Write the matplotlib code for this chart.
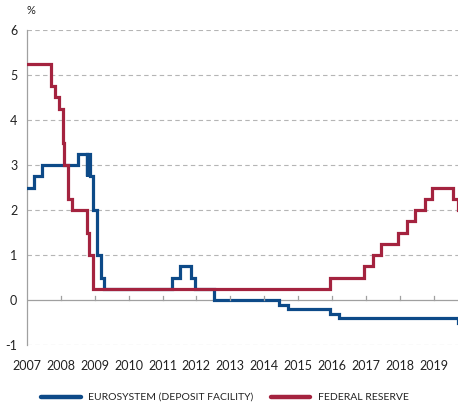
import matplotlib
matplotlib.use("Agg")
import matplotlib.pyplot as plt
from matplotlib.lines import Line2D
import pandas as pd

plt.rcParams['font.family'] = ['Lato', 'DejaVu Sans']

ecb_dates = ["2007-01-01", "2007-03-14", "2007-06-13", "2008-07-09", "2008-10-08",
             "2008-10-09", "2008-11-12", "2008-12-10", "2009-01-21", "2009-03-11",
             "2009-04-08", "2011-04-13", "2011-07-13", "2011-11-09", "2011-12-14",
             "2012-07-11", "2014-06-11", "2014-09-10", "2015-12-09", "2016-03-16",
             "2019-09-18", "2019-09-24"]
ecb_rates = [2.50, 2.75, 3.00, 3.25, 2.75, 3.25, 2.75, 2.00, 1.00, 0.50,
             0.25, 0.50, 0.75, 0.50, 0.25, 0.00, -0.10, -0.20, -0.30, -0.40,
             -0.50, -0.50]

fed_dates = ["2007-01-01", "2007-09-18", "2007-10-31", "2007-12-11", "2008-01-22",
             "2008-01-30", "2008-03-18", "2008-04-30", "2008-10-08", "2008-10-29",
             "2008-12-16", "2015-12-16", "2016-12-14", "2017-03-15", "2017-06-14",
             "2017-12-13", "2018-03-21", "2018-06-13", "2018-09-26", "2018-12-19",
             "2019-07-31", "2019-09-18", "2019-09-24"]
fed_rates = [5.25, 4.75, 4.50, 4.25, 3.50, 3.00, 2.25, 2.00, 1.50, 1.00,
             0.25, 0.50, 0.75, 1.00, 1.25, 1.50, 1.75, 2.00, 2.25, 2.50,
             2.25, 2.00, 2.00]

years = list(range(2007, 2020))
yticks = [-1, 0, 1, 2, 3, 4, 5, 6]
labels = ["EUROSYSTEM (DEPOSIT FACILITY)", "FEDERAL RESERVE"]

blue = "#0d4a88"
red = "#a4233f"
grid_c = "#b5b5b5"

W, H = 458, 405
fig = plt.figure(figsize=(W / 100, H / 100), dpi=100)
ax = fig.add_axes([0.059, 0.148, 0.941, 0.778])

ecb_x = pd.to_datetime(ecb_dates)
fed_x = pd.to_datetime(fed_dates)
ax.plot(ecb_x, ecb_rates, drawstyle="steps-post", color=blue, lw=2.3,
        solid_joinstyle="miter", zorder=3)
ax.plot(fed_x, fed_rates, drawstyle="steps-post", color=red, lw=2.3,
        solid_joinstyle="miter", zorder=3)

ax.set_xlim(pd.Timestamp("2007-01-01"), pd.Timestamp("2019-09-22"))
ax.set_ylim(-1, 6)
ax.set_yticks(yticks)
ax.set_yticklabels([str(v) for v in yticks])

for v in yticks:
    if v == 0:
        continue
    ax.axhline(v, color=grid_c, lw=0.8, ls=(0, (4, 3)), zorder=1)
ax.axhline(0, color="#a0a0a0", lw=0.9, zorder=2)

tick_dates = [pd.Timestamp(f"{y}-01-01") for y in years]
ax.set_xticks(tick_dates)
ax.set_xticklabels([str(y) for y in years])
for td in tick_dates[1:]:
    ax.plot([td, td], [0, 0.08], color="#a0a0a0", lw=0.9, zorder=4)

ax.tick_params(axis="x", length=0, pad=11, labelsize=9, colors="#222222")
ax.tick_params(axis="y", length=0, pad=7, labelsize=9, colors="#222222")

for s in ["top", "right", "bottom"]:
    ax.spines[s].set_visible(False)
ax.spines["left"].set_color("#a0a0a0")
ax.spines["left"].set_linewidth(0.9)

fig.text(0.058, 0.975, "%", fontsize=8, color="#222222", ha="left", va="center")

# legend drawn manually at the bottom
ly = 1 - 397 / H
for (x0, x1, xt), col, lab in zip([(41, 81, 88), (271, 310, 318)], [blue, red], labels):
    fig.add_artist(Line2D([x0 / W, x1 / W], [ly, ly], color=col, lw=3.2,
                          solid_capstyle="round", transform=fig.transFigure))
    fig.text(xt / W, ly, lab, fontsize=7.5, color="#222222", ha="left", va="center")

fig.savefig("out.png", dpi=100)
